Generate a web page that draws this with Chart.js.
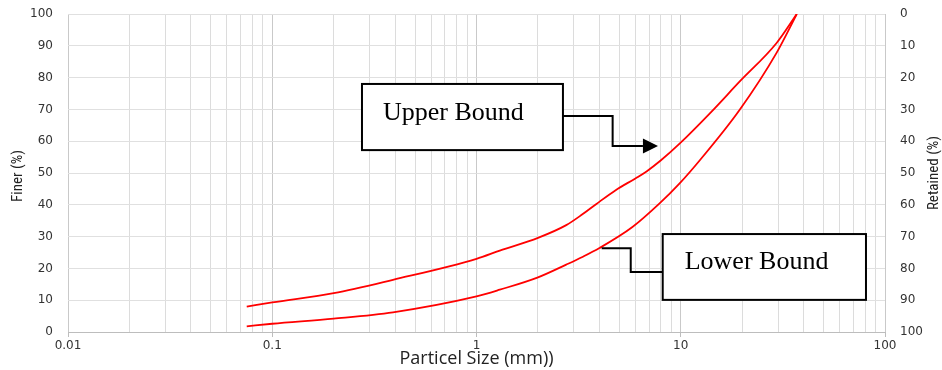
<!DOCTYPE html>
<html>
<head>
<meta charset="utf-8">
<style>
html,body{margin:0;padding:0;background:#fff;}
#wrap{width:942px;height:370px;}
</style>
<script src="https://cdn.jsdelivr.net/npm/chart.js@4.4.1/dist/chart.umd.min.js"></script>
</head>
<body>
<div id="wrap"><canvas id="c" width="942" height="370"></canvas></div>
<script>
// ---- data ----
const sizeUpper  = [0.075, 0.1, 0.2, 0.39, 1, 1.3, 2, 2.75, 3.3, 3.85, 4.8, 6, 6.8, 8, 9.9, 14, 19.4, 29.4, 37];
const finerUpper = [8, 9.3, 12.2, 16.4, 23, 25.6, 29.6, 33.6, 37, 40.2, 44.6, 48.3, 50.5, 54, 59.3, 69, 78.7, 90.8, 100];
const sizeLower  = [0.075, 0.1, 0.2, 0.39, 1, 1.3, 2, 2.75, 3.3, 4, 5.8, 7.9, 9.9, 12.4, 19.4, 29.4, 37];
const finerLower = [1.8, 2.6, 4.2, 6.2, 11.2, 13.3, 17.2, 21.2, 23.6, 26.4, 33, 40.5, 46.8, 54, 69.8, 87.7, 100];
const decades = [0.01, 0.1, 1, 10, 100];
const decadeLabels = ["0.01", "0.1", "1", "10", "100"];
const multipliers = [1, 2, 3, 4, 5, 6, 7, 8, 9];
const seriesNames = ["Upper Bound", "Lower Bound"];
const xTitle = "Particel Size (mm))";
const yTitle = "Finer (%)";
const y2Title = "Retained (%)";

// tick values for log axis grid
const xTickValues = [];
decades.forEach((d, i) => {
  if (i === decades.length - 1) { xTickValues.push(d); return; }
  multipliers.forEach(m => xTickValues.push(+(d * m).toPrecision(6)));
});
function decadeIndex(v) {
  for (let i = 0; i < decades.length; i++) if (Math.abs(v / decades[i] - 1) < 1e-6) return i;
  return -1;
}

// callouts (in data units: x mm, y %)
const callouts = [
  { text: seriesNames[0], box: [0.275, 2.65, 78, 57.2], textDx: 21, textDy: 36,
    path: [[2.65, 67.9], [4.64, 67.9], [4.64, 58.5], [6.53, 58.5]], arrowTip: [7.74, 58.5] },
  { text: seriesNames[1], box: [8.16, 80.7, 30.8, 10.1], textDx: 22, textDy: 35,
    path: [[4.1, 26.3], [5.69, 26.3], [5.69, 18.9], [8.16, 18.9]], arrowTip: null }
];

const calloutPlugin = {
  id: 'callouts',
  afterDraw(chart) {
    const ctx = chart.ctx, xs = chart.scales.x, ys = chart.scales.y;
    const X = v => xs.getPixelForValue(v), Y = v => ys.getPixelForValue(v);
    ctx.save();
    ctx.strokeStyle = '#000'; ctx.fillStyle = '#000'; ctx.lineWidth = 2;
    callouts.forEach(c => {
      const x1 = X(c.box[0]), x2 = X(c.box[1]), y1 = Y(c.box[2]), y2 = Y(c.box[3]);
      ctx.fillStyle = '#fff';
      ctx.fillRect(x1, y1, x2 - x1, y2 - y1);
      ctx.strokeRect(x1, y1, x2 - x1, y2 - y1);
      ctx.fillStyle = '#000';
      ctx.font = "26px 'Liberation Serif', 'Times New Roman', serif";
      ctx.textAlign = 'left'; ctx.textBaseline = 'alphabetic';
      ctx.fillText(c.text, x1 + c.textDx, y1 + c.textDy);
      ctx.beginPath();
      c.path.forEach((p, i) => { const px = X(p[0]), py = Y(p[1]); i ? ctx.lineTo(px, py) : ctx.moveTo(px, py); });
      ctx.stroke();
      if (c.arrowTip) {
        const last = c.path[c.path.length - 1];
        const bx = X(last[0]), by = Y(last[1]), tx = X(c.arrowTip[0]);
        ctx.beginPath();
        ctx.moveTo(bx, by - 7.5); ctx.lineTo(tx, by); ctx.lineTo(bx, by + 7.5); ctx.closePath();
        ctx.fill();
      }
    });
    // axis titles (both read bottom-to-top)
    ctx.fillStyle = '#222';
    ctx.font = "15px 'Liberation Sans Narrow', 'Roboto Condensed', sans-serif";
    ctx.textAlign = 'center'; ctx.textBaseline = 'middle';
    const cy = (chart.chartArea.top + chart.chartArea.bottom) / 2;
    ctx.save(); ctx.translate(18, cy + 3); ctx.rotate(-Math.PI / 2); ctx.fillText(yTitle, 0, 0); ctx.restore();
    ctx.save(); ctx.translate(934, cy); ctx.rotate(-Math.PI / 2); ctx.fillText(y2Title, 0, 0); ctx.restore();
    ctx.restore();
  }
};

const tickFont = { family: "'DejaVu Sans', Verdana, sans-serif", size: 12 };
const noPad = s => { s.paddingTop = 0; s.paddingBottom = 0; };

new Chart(document.getElementById('c'), {
  type: 'line',
  data: {
    datasets: [
      { label: seriesNames[0], data: sizeUpper.map((s, i) => ({ x: s, y: finerUpper[i] })),
        borderColor: '#ff0000', borderWidth: 1.8, pointRadius: 0, fill: false, cubicInterpolationMode: 'monotone' },
      { label: seriesNames[1], data: sizeLower.map((s, i) => ({ x: s, y: finerLower[i] })),
        borderColor: '#ff0000', borderWidth: 1.8, pointRadius: 0, fill: false, cubicInterpolationMode: 'monotone' }
    ]
  },
  options: {
    responsive: false, animation: false,
    layout: { padding: { top: 14, left: 0, right: 0, bottom: 0 } },
    plugins: { legend: { display: false }, tooltip: { enabled: false } },
    scales: {
      x: {
        type: 'logarithmic', min: 0.01, max: 100,
        afterBuildTicks: s => { s.ticks = xTickValues.map(v => ({ value: v })); },
        afterFit: s => { s.height = 38; s.paddingLeft = 0; s.paddingRight = 0; },
        ticks: {
          autoSkip: false, maxRotation: 0, font: tickFont, color: '#333', padding: 2,
          callback: v => { const i = decadeIndex(v); return i >= 0 ? decadeLabels[i] : ''; }
        },
        grid: {
          color: ctx => decadeIndex(ctx.tick ? ctx.tick.value : 0) >= 0 ? '#c9c9c9' : '#dcdcdc',
          lineWidth: 1, tickLength: 5,
          tickColor: ctx => decadeIndex(ctx.tick ? ctx.tick.value : 0) >= 0 ? '#bdbdbd' : 'rgba(0,0,0,0)'
        },
        border: { color: '#bdbdbd' },
        title: { display: true, text: xTitle, font: { family: "'Open Sans', sans-serif", size: 18 }, color: '#222', padding: { top: -9, bottom: 0 } }
      },
      y: {
        type: 'linear', position: 'left', min: 0, max: 100,
        afterFit: s => { s.width = 68; noPad(s); },
        ticks: { stepSize: 10, font: tickFont, color: '#333', padding: 15 },
        grid: { color: '#e0e0e0', drawTicks: false },
        border: { display: false }
      },
      y2: {
        type: 'linear', position: 'right', min: 0, max: 100, reverse: true,
        afterFit: s => { s.width = 57; noPad(s); },
        ticks: { stepSize: 10, font: tickFont, color: '#333', padding: 15 },
        grid: { display: false, drawTicks: false },
        border: { display: false }
      }
    }
  },
  plugins: [calloutPlugin]
});
</script>
</body>
</html>
